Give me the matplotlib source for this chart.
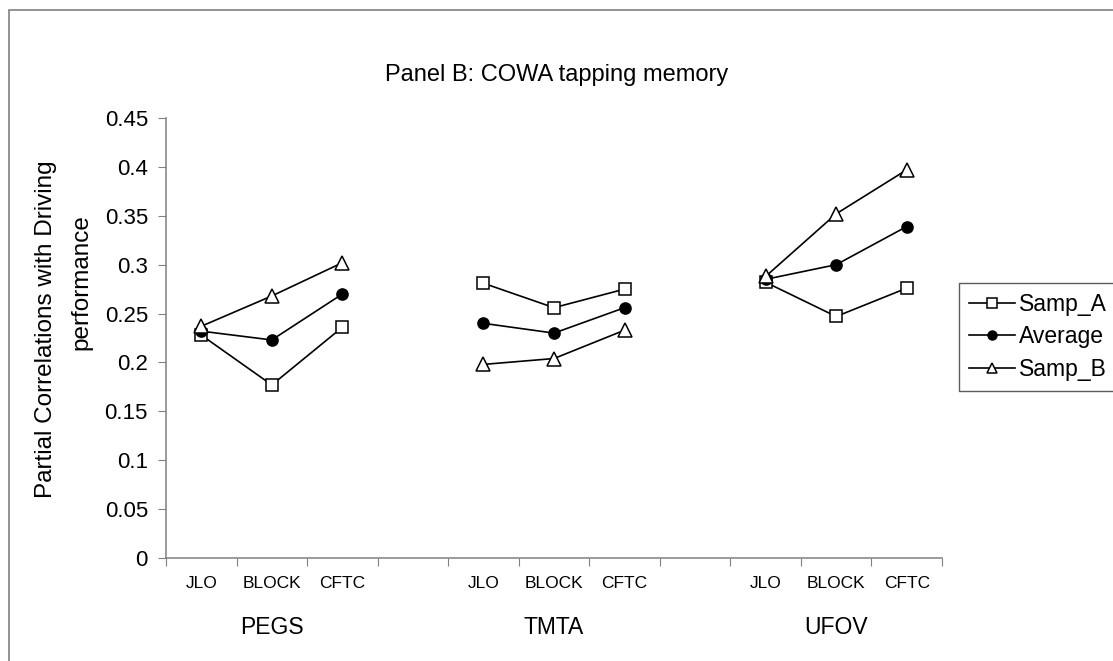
import numpy as np
import matplotlib
matplotlib.use("Agg")
import matplotlib.pyplot as plt
from matplotlib.transforms import Bbox, TransformedBbox, blended_transform_factory
from matplotlib.patches import Rectangle

plt.rcParams['font.family'] = ['Liberation Sans', 'DejaVu Sans']

# data
groups = ["PEGS", "TMTA", "UFOV"]
tests = ["JLO", "BLOCK", "CFTC"]
samp_a = [[0.228, 0.177, 0.236], [0.281, 0.256, 0.275], [0.282, 0.247, 0.276]]
average = [[0.232, 0.223, 0.270], [0.240, 0.230, 0.256], [0.285, 0.300, 0.339]]
samp_b = [[0.237, 0.268, 0.302], [0.198, 0.204, 0.233], [0.288, 0.352, 0.397]]
yticks = [0, 0.05, 0.1, 0.15, 0.2, 0.25, 0.3, 0.35, 0.4, 0.45]

W, H = 1113, 661
fig = plt.figure(figsize=(W / 100, H / 100), dpi=100)


def fx(px):
    return px / W


def fy(py):
    return 1 - py / H


# chart-area border (left and top only visible)
fig.patches.append(Rectangle((fx(9), fy(H + 5)), fx(W + 10), fy(10) - fy(H + 5),
                             transform=fig.transFigure, fill=False,
                             edgecolor="#808080", linewidth=1.2))

ax = fig.add_axes([fx(166), fy(558), fx(942) - fx(166), fy(118) - fy(558)])

n_slots = len(groups) * (len(tests) + 1) - 1
series = [(samp_a, "s", "white", "Samp_A", 8.5),
          (average, "o", "black", "Average", 8),
          (samp_b, "^", "white", "Samp_B", 9.5)]
for data, marker, face, label, ms in series:
    for g, vals in enumerate(data):
        xs = np.arange(len(tests)) + g * (len(tests) + 1)
        ax.plot(xs, vals, color="black", linewidth=1.2, marker=marker,
                markersize=ms, markerfacecolor=face, markeredgecolor="black",
                markeredgewidth=1.1, label=label if g == 0 else None)

ax.set_xlim(-0.5, n_slots - 0.5)
ax.set_ylim(0, 0.45)
ax.set_yticks(yticks)
ax.set_yticklabels([("%g" % v) for v in yticks], fontsize=16)
ax.set_xticks(np.arange(-0.5, n_slots, 1.0))
ax.set_xticklabels([])
ax.tick_params(axis="y", direction="out", length=6, color="#808080", pad=7)
ax.tick_params(axis="x", direction="out", length=6, color="#808080")
for s in ["top", "right"]:
    ax.spines[s].set_visible(False)
for s in ["left", "bottom"]:
    ax.spines[s].set_color("#808080")
    ax.spines[s].set_linewidth(1.1)

# category and group labels
tr = blended_transform_factory(ax.transData, fig.transFigure)
for g, grp in enumerate(groups):
    base = g * (len(tests) + 1)
    for i, t in enumerate(tests):
        ax.text(base + i, fy(584), t, transform=tr, ha="center", va="center", fontsize=12.5)
    ax.text(base + 1, fy(628), grp, transform=tr, ha="center", va="center", fontsize=16.5)

fig.text(0.5, fy(75), "Panel B: COWA tapping memory", ha="center", va="center", fontsize=17)

# y label: first line overflows and is clipped at the top, like the original
t1 = fig.text(fx(46), fy(498), "Partial Correlations with Driving", rotation=90,
              ha="center", va="bottom", fontsize=17.5)
t1.set_clip_box(TransformedBbox(Bbox([[0, 0], [1, fy(163)]]), fig.transFigure))
t1.set_clip_on(True)
fig.text(fx(81), fy(282), "performance", rotation=90, ha="center", va="center", fontsize=17.5)

leg = ax.legend(loc="upper left", bbox_to_anchor=(fx(959), fy(283)),
                bbox_transform=fig.transFigure, fontsize=16.5, frameon=True,
                fancybox=False, edgecolor="#333333", handlelength=2.0,
                handletextpad=0.15, borderpad=0.45, labelspacing=0.4,
                borderaxespad=0, markerscale=0.8)
leg.get_frame().set_linewidth(1.0)

fig.savefig("out.png", dpi=100)
